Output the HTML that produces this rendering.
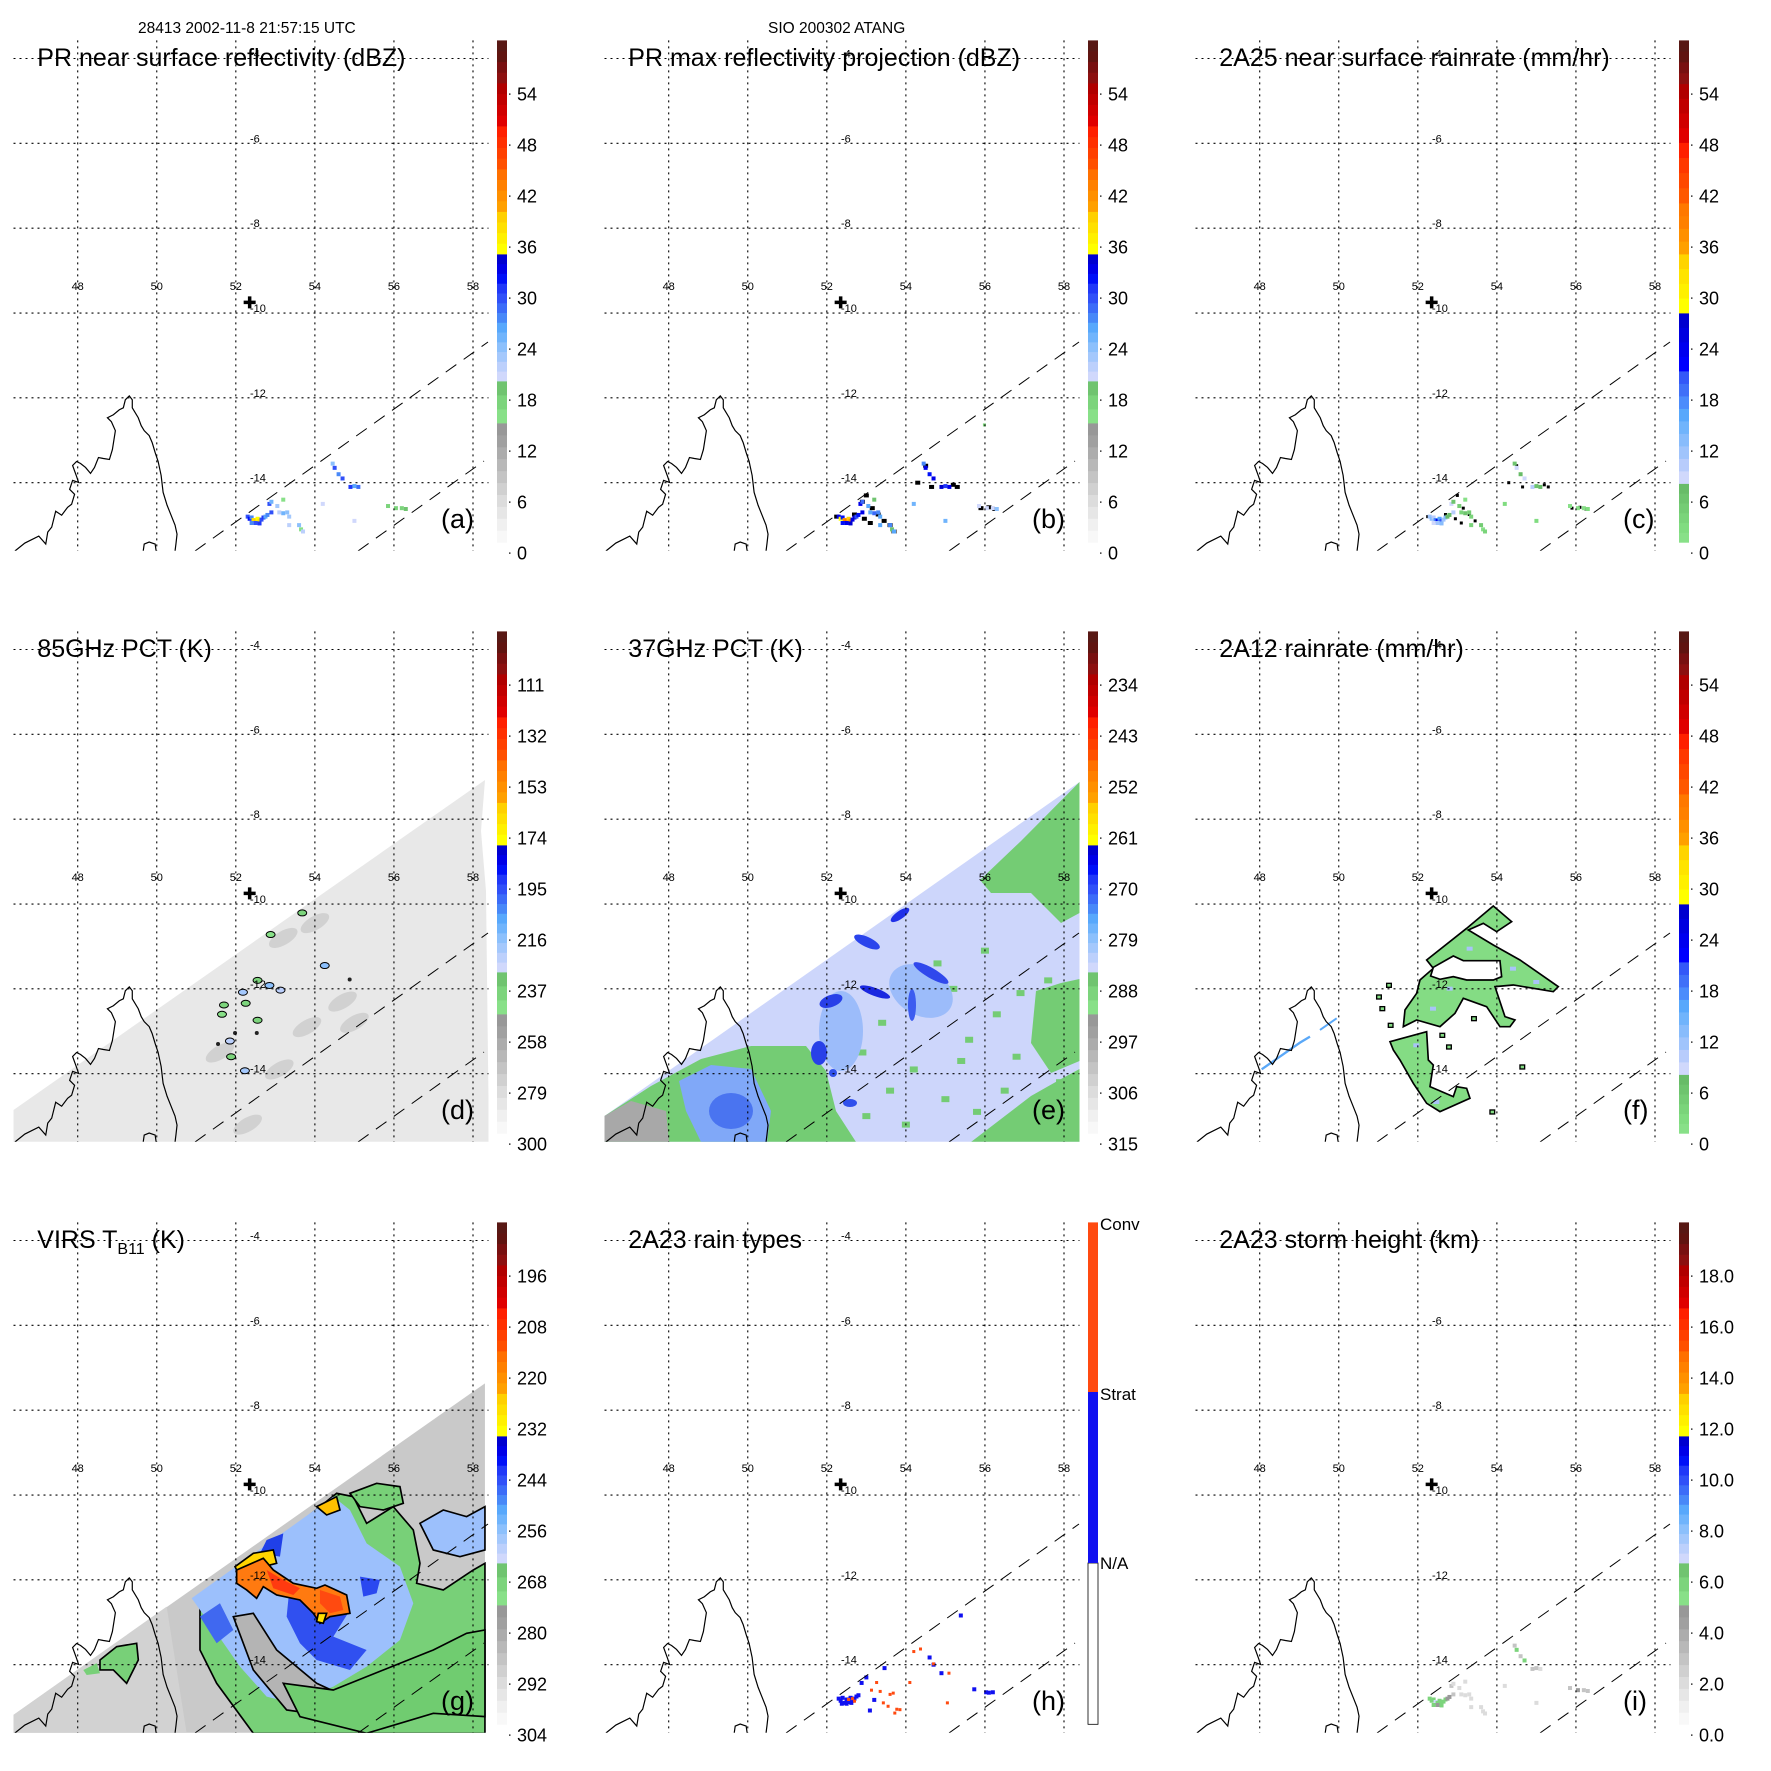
<!DOCTYPE html>
<html><head><meta charset="utf-8"><title>TRMM Cyclone Atang</title>
<style>
html,body{margin:0;padding:0;background:#fff;}
svg{display:block;font-family:"Liberation Sans",Arial,sans-serif;}
</style></head>
<body>
<svg id="fig" xmlns="http://www.w3.org/2000/svg" width="1771" height="1771" viewBox="0 0 1771 1771">
<rect x="0" y="0" width="1771" height="1771" fill="#fff"/>
<text x="138" y="33" font-size="15.5">28413 2002-11-8 21:57:15 UTC</text>
<text x="768" y="33" font-size="15.5">SIO 200302 ATANG</text>
</svg>
<script>
// ---------- data ----------
const lonTicks = [48, 50, 52, 54, 56, 58];
const latTicks = [-4, -6, -8, -10, -12, -14];
const stormCenter = [52.35, -9.75];
const cbarLabelsA = ["0","6","12","18","24","30","36","42","48","54"];
const cbarLabelsD = ["300","279","258","237","216","195","174","153","132","111"];
const cbarLabelsE = ["315","306","297","288","279","270","261","252","243","234"];
const cbarLabelsG = ["304","292","280","268","256","244","232","220","208","196"];
const cbarLabelsI = ["0.0","2.0","4.0","6.0","8.0","10.0","12.0","14.0","16.0","18.0"];
const rainTypeLabels = ["N/A","Strat","Conv"];

// panel a: PR near-surface reflectivity (lon, lat, dBZ)
const aLon = [52.3,52.35,52.4,52.45,52.5,52.55,52.6,52.65,52.7,52.75,52.5,52.4,52.6,52.8,52.9,52.85,52.9,53.05,53.1,53.2,53.3,53.35,53.35,53.6,53.65,53.7,53.2,54.45,54.5,54.6,54.7,54.9,55.0,55.1,54.2,55.0,55.85,56.05,56.2,56.3];
const aLat = [-14.8,-14.85,-14.82,-14.88,-14.9,-14.85,-14.9,-14.87,-14.82,-14.8,-14.95,-14.95,-14.96,-14.76,-14.7,-14.5,-14.45,-14.55,-14.7,-14.72,-14.7,-14.8,-15.0,-15.0,-15.1,-15.15,-14.4,-13.55,-13.65,-13.8,-13.9,-14.1,-14.08,-14.1,-14.5,-14.9,-14.55,-14.6,-14.6,-14.62];
const aVal = [30,32,28,38,40,36,38,30,31,26,30,28,31,28,30,30,25,23,22,25,24,23,22,24,16,22,16,24,30,28,30,31,27,29,21,21,17,17,17,20];
const bBlackLon = [52.25,52.7,52.9,53.0,53.15,53.3,53.45,53.6,53.7,53.1,54.3,54.5,54.65,55.2,55.3,55.9,56.1,56.25,52.95];
const bBlackLat = [-14.8,-14.75,-14.45,-14.3,-14.6,-14.75,-14.9,-15.0,-15.15,-14.95,-14.0,-13.6,-14.1,-14.05,-14.1,-14.6,-14.58,-14.62,-14.85];
const cVal = [12,14,10,18,24,16,20,12,13,8,12,9,13,8,10,9,6,5,4,6,5,4,4,5,2,4,2,6,9,8,9,10,7,8,3,3,2,2,2,3];
const dLon = [53.68,52.88,54.25,52.55,52.85,53.13,52.18,52.25,51.7,51.65,52.55,51.85,51.88,52.23];
const dLat = [-10.21,-10.72,-11.45,-11.8,-11.92,-12.03,-12.08,-12.34,-12.38,-12.6,-12.74,-13.23,-13.6,-13.93];
const dVal = [240,245,215,240,215,225,220,240,240,245,240,225,240,220];
const dDarkLon = [54.88,51.98,51.55,52.53];
const dDarkLat = [-11.78,-13.04,-13.3,-13.04];
const dSmudgeLon = [53.2,54.0,54.7,55.0,53.8,52.3,51.6,53.1];
const dSmudgeLat = [-10.8,-10.45,-12.3,-12.8,-12.9,-15.2,-13.5,-13.9];
const hLon = [52.3,52.35,52.4,52.45,52.5,52.55,52.6,52.65,52.7,52.75,52.8,52.38,52.5,52.62,52.88,53.0,53.46,53.2,53.09,54.6,54.7,54.9,55.39,55.73,56.03,56.2,56.1,52.55,52.65,52.7,53.26,53.13,53.35,53.6,53.68,53.43,53.55,53.77,53.72,53.85,54.1,54.2,54.37,54.7,55.09,55.05];
const hLat = [-14.8,-14.85,-14.78,-14.9,-14.82,-14.88,-14.78,-14.85,-14.8,-14.75,-14.72,-14.92,-14.92,-14.9,-14.43,-14.3,-14.08,-14.83,-15.08,-13.83,-14.0,-14.2,-12.84,-14.58,-14.65,-14.65,-14.66,-14.82,-14.8,-14.86,-14.42,-14.6,-14.63,-14.7,-14.67,-14.9,-14.98,-15.05,-15.14,-15.06,-14.42,-13.69,-13.63,-13.98,-14.2,-14.9];
const hType = [1,1,1,1,1,1,1,1,1,1,1,1,1,1,1,1,1,1,1,1,1,1,1,1,1,1,1,2,2,2,2,2,2,2,2,2,2,2,2,2,2,2,2,2,2,2];
const iVal = [6,6,6,7,6,6,6,6,6,5,5,6,6,5,3,3,2,2,2,2,2,2,2,2,2,2,2,3,6,3,6,3,3,2,2,2,3,5,3,3];
// panel e: scattered warm (green) pixels, lon/lat
const eGreenLon = [54.6,55.2,55.6,56.3,56.8,57.4,57.9,55.0,54.2,53.6,53.0,55.8,56.5,57.2,54.8,53.4,56.0,57.6,52.9,55.4,54.0,56.9];
const eGreenLat = [-12.4,-12.0,-13.2,-12.6,-13.6,-13.0,-14.2,-14.6,-13.9,-14.4,-15.0,-14.9,-14.4,-15.1,-11.4,-12.8,-11.1,-11.8,-13.5,-13.7,-15.2,-12.1];

// ---------- helpers ----------
const NS = "http://www.w3.org/2000/svg";
const svg = document.getElementById('fig');
const PITCH = 591;
function X(lon){ return 77.7 + (lon - 48) * 39.53; }
function Y(lat){ return 58.5 + (-4 - lat) * 42.42; }
function mk(tag, attrs, parent){
  const e = document.createElementNS(NS, tag);
  for (const k in attrs) e.setAttribute(k, attrs[k]);
  (parent || svg).appendChild(e);
  return e;
}
function pts(a){ return a.map(p => p[0] + ',' + p[1]).join(' '); }

const CB_TOP = 40.4, CB_BOT = 542.3, CB_X = 497, CB_W = 10;
const stdBands = [
  [542.3, 423, ['#f8f8f8','#f0f0f0','#e6e6e6','#dcdcdc','#d0d0d0','#c4c4c4','#b8b8b8','#acacac','#a0a0a0','#989898']],
  [423, 381, ['#88e088','#7cd47c','#70c470']],
  [381, 254, ['#d0d8fc','#bcd0fc','#a4c8fc','#8cc0fc','#70b4fc','#58a8fc','#4888f8','#3c6cf8','#3050f8','#2038f8','#0010f8','#0000e8','#0000d0']],
  [254, 211.5, ['#ffff00','#fff000','#ffe000','#ffd000']],
  [211.5, 169, ['#ffa000','#ff9000','#ff8000','#ff7000']],
  [169, 83, ['#ff5000','#ff4000','#ff3000','#ff2000','#e00000','#d00000','#c00000','#b00000']],
  [83, 40.4, ['#8c1010','#781010','#601410','#581814']]
];
const rainBands = [
  [542.3, 483.5, ['#88e088','#80dc80','#7ad47a','#74cc74','#6ec46e','#68bc68']],
  [483.5, 421, ['#d0d8fc','#b8ccfc','#a0c4fc','#88bcfc','#70b4fc']],
  [421, 371, ['#58a8fc','#4c8cfc','#4070f8','#3458f8']],
  [371, 313, ['#0000ff','#0000f0','#0000e0','#0000d0']],
  [313, 254, ['#ffff00','#fff000','#ffe400','#ffd400']],
  [254, 203, ['#ffa000','#ff9000','#ff8000','#ff7800']],
  [203, 142.5, ['#ff5800','#ff4800','#ff3800','#ff2000']],
  [142.5, 83.7, ['#e00000','#d00000','#c00000','#b00000']],
  [83.7, 40.4, ['#8c1010','#781010','#601410','#581814']]
];
function segs(bands){
  const out = [];
  bands.forEach(b => {
    const n = b[2].length, h = (b[0] - b[1]) / n;
    b[2].forEach((c, i) => out.push([b[0] - (i + 1) * h, b[0] - i * h, c]));
  });
  return out;
}
function colorAtY(segList, y){
  for (const s of segList) if (y >= s[0] && y <= s[1]) return s[2];
  return y < CB_TOP ? segList[segList.length - 1][2] : segList[0][2];
}
function valueY(labels, v){
  const v0 = parseFloat(labels[0]), v1 = parseFloat(labels[1]);
  return 553 - (v - v0) / (v1 - v0) * 51;
}

const coast = [[15,554],[25,546],[39,539],[46,547],[48,535],[52,530],[56,514],[62,518],[68,510],[72,507],[75,497],[70,492],[73,483],[79,485],[77,479],[73,468],[77,464],[81,466],[86,470],[91,476],[95,470],[99,460],[104,461],[110,462],[113,452],[116,433],[112,424],[108,420],[114,417],[120,412],[124,410],[126,402],[130,398],[133,402],[133,410],[139,420],[142,428],[145,433],[150,438],[153,445],[156,455],[159,464],[162,478],[164,495],[168,508],[172,518],[176,528],[178,537],[177,546],[176,554]];
const islet = [[144,554],[145,547],[150,545],[156,547],[157,554]];

function panel(col, row, cfg){
  const g = mk('g', {transform: 'translate(' + (col * PITCH) + ',' + (row * PITCH) + ')'});
  
  
  const clipId = 'clip' + cfg.letter;
  const cp = mk('clipPath', {id: clipId}, g);
  mk('rect', {x: 13.5, y: 40.4, width: 475, height: 510.4}, cp);
  const field = mk('g', {'clip-path': 'url(#' + clipId + ')'}, g);
  
  
  if (cfg.draw) cfg.draw(field);

  const cg = mk('g', {transform: 'scale(0.9946)'}, field);
  const c1 = mk('polyline', {points: pts(coast), fill: 'none', stroke: '#000', 'stroke-width': 1.2}, cg);
  
  
  mk('polyline', {points: pts(islet), fill: 'none', stroke: '#000', 'stroke-width': 1.2}, cg);

  const s1 = mk('line', {x1: 195, y1: 551, x2: 488, y2: 342, stroke: '#000', 'stroke-width': 1, 'stroke-dasharray': '13,9'}, field);
  
  
  const s2 = mk('line', {x1: 358, y1: 551, x2: 484, y2: 461, stroke: '#000', 'stroke-width': 1, 'stroke-dasharray': '13,9'}, field);
  
  

  lonTicks.forEach(lon => {
    const l = mk('line', {x1: X(lon), y1: 40.4, x2: X(lon), y2: 550.8, stroke: '#000', 'stroke-width': 1.1, 'stroke-dasharray': '2,4'}, g);
    
    
    const t = mk('text', {x: X(lon), y: 290, 'font-size': 11, 'text-anchor': 'middle'}, g);
    t.textContent = String(lon);
    
    
  });
  latTicks.forEach(lat => {
    const l = mk('line', {x1: 13.5, y1: Y(lat), x2: 488.5, y2: Y(lat), stroke: '#000', 'stroke-width': 1.1, 'stroke-dasharray': '2,4'}, g);
    
    
    const t = mk('text', {x: 250, y: Y(lat) - 1, 'font-size': 11}, g);
    t.textContent = String(lat);
    
    
  });
  const cx = X(stormCenter[0]), cy = Y(stormCenter[1]);
  const pl = mk('path', {d: 'M' + (cx - 6) + ',' + cy + 'h12M' + cx + ',' + (cy - 6) + 'v12', stroke: '#000', 'stroke-width': 3.5}, g);
  
  

  const tt = mk('text', {x: 37.3, y: 66, 'font-size': 25}, g);
  
  
  if (cfg.titleSub){
    tt.appendChild(document.createTextNode(cfg.title));
    const ts = document.createElementNS(NS, 'tspan');
    ts.setAttribute('font-size', 16); ts.setAttribute('dy', 6);
    ts.textContent = cfg.titleSub; tt.appendChild(ts);
    const ts2 = document.createElementNS(NS, 'tspan');
    ts2.setAttribute('dy', -6);
    ts2.textContent = cfg.titleEnd; tt.appendChild(ts2);
  } else tt.textContent = cfg.title;
  const lt = mk('text', {x: 441, y: 528, 'font-size': 27}, g);
  lt.textContent = '(' + cfg.letter + ')';
  
  

  const cb = mk('g', {}, g);
  
  
  if (cfg.rainType){
    mk('rect', {x: CB_X, y: 381, width: CB_W, height: CB_BOT - 381, fill: '#fff', stroke: '#000', 'stroke-width': 0.8}, cb);
    mk('rect', {x: CB_X, y: 210, width: CB_W, height: 171, fill: '#1010f0'}, cb);
    mk('rect', {x: CB_X, y: CB_TOP, width: CB_W, height: 210 - CB_TOP, fill: '#ff4a10'}, cb);
    const ys = [381, 212, 42];
    rainTypeLabels.forEach((s, i) => {
      const t = mk('text', {x: 509, y: ys[i] + 6, 'font-size': 17}, cb);
      t.textContent = s;
      
      
    });
  } else {
    cfg.segs.forEach(s => mk('rect', {x: CB_X, y: s[0], width: CB_W, height: s[1] - s[0] + 0.4, fill: s[2]}, cb));
    cfg.labels.forEach((s, i) => {
      const y = 553 - i * 51;
      const t = mk('text', {x: 517, y: y + 6.5, 'font-size': 18}, cb);
      t.textContent = s;
      
      
      mk('rect', {x: 509, y: y - 0.5, width: 1.5, height: 1.2, fill: '#000'}, cb);
    });
  }
}

function dots(parent, lons, lats, vals, cfg, size){
  lons.forEach((lon, i) => {
    const col = colorAtY(cfg.segs, valueY(cfg.labels, vals[i]));
    const r = mk('rect', {x: X(lon) - size / 2, y: Y(lats[i]) - size / 2, width: size, height: size, fill: col}, parent);
    
    
  });
}

const STD = segs(stdBands), RAIN = segs(rainBands);

const cfgA = {letter: 'a', title: 'PR near surface reflectivity (dBZ)', segs: STD, labels: cbarLabelsA};
cfgA.draw = f => dots(f, aLon, aLat, aVal, cfgA, 4);
panel(0, 0, cfgA);

const cfgB = {letter: 'b', title: 'PR max reflectivity projection (dBZ)', segs: STD, labels: cbarLabelsA};
cfgB.draw = f => {
  bBlackLon.forEach((lon, i) => {
    const r = mk('rect', {x: X(lon) - 2.5, y: Y(bBlackLat[i]) - 2, width: 5, height: 4, fill: '#000'}, f);
    
    
  });
  dots(f, aLon, aLat, aVal.map(v => v + 4), cfgB, 4);
  const gr = mk('rect', {x: X(56) - 2, y: Y(-12.65) - 2, width: 3, height: 3, fill: '#78d078'}, f);
  
  
};
panel(1, 0, cfgB);

const cfgC = {letter: 'c', title: '2A25 near surface rainrate (mm/hr)', segs: RAIN, labels: cbarLabelsA};
cfgC.draw = f => {
  bBlackLon.forEach((lon, i) => {
    const r = mk('rect', {x: X(lon) - 1.5, y: Y(bBlackLat[i]) - 1.5, width: 3, height: 3, fill: '#000'}, f);
    
    
  });
  dots(f, aLon, aLat, cVal, cfgC, 4);
};
panel(2, 0, cfgC);

const cfgD = {letter: 'd', title: '85GHz PCT (K)', segs: STD, labels: cbarLabelsD};
cfgD.draw = f => {
  mk('polygon', {points: '13.5,519 485,189 481,240 486,300 489,551 13.5,551', fill: '#e8e8e8'}, f);
  dSmudgeLon.forEach((lon, i) => {
    const e = mk('ellipse', {cx: X(lon), cy: Y(dSmudgeLat[i]), rx: 16, ry: 7, fill: '#c8c8c8', opacity: 0.7, transform: 'rotate(-30 ' + X(lon) + ' ' + Y(dSmudgeLat[i]) + ')'}, f);
    
    
  });
  dLon.forEach((lon, i) => {
    const col = colorAtY(STD, valueY(cbarLabelsD, dVal[i]));
    const e = mk('ellipse', {cx: X(lon), cy: Y(dLat[i]), rx: 4.5, ry: 3, fill: col, stroke: '#000', 'stroke-width': 1}, f);
    
    
  });
  dDarkLon.forEach((lon, i) => {
    const e = mk('circle', {cx: X(lon), cy: Y(dDarkLat[i]), r: 2, fill: '#222'}, f);
    
    
  });
};
panel(0, 1, cfgD);

const cfgE = {letter: 'e', title: '37GHz PCT (K)', segs: STD, labels: cbarLabelsE};
cfgE.draw = f => {
  mk('polygon', {points: '13.5,525 488.5,191 483,262 488.5,312 488.5,551 13.5,551', fill: '#cdd6fb'}, f);
  const green = '#74cc74';
  [
    '389,289 430,250 488.5,191 488.5,322 470,332 440,302 400,302',
    '445,400 470,392 488.5,388 488.5,470 460,482 440,452',
    '380,551 410,528 440,505 470,488 488.5,478 488.5,551',
    '13.5,525 60,495 110,468 160,455 215,455 235,480 245,520 265,551 13.5,551'
  ].forEach(p => {
    const q = mk('polygon', {points: p, fill: green}, f);
    
    
  });
  eGreenLon.forEach((lon, i) => {
    const r = mk('rect', {x: X(lon) - 4, y: Y(eGreenLat[i]) - 3, width: 8, height: 6, fill: green}, f);
    
    
  });
  mk('polygon', {points: '88,490 120,474 160,478 180,520 176,551 110,551 95,520', fill: '#80a8f8'}, f);
  mk('polygon', {points: '13.5,525 40,510 75,520 78,551 13.5,551', fill: '#a8a8a8'}, f);
  [[250,440,22,40,0,'#9cbcfa'],[330,400,34,24,30,'#9cbcfa'],[140,520,22,18,0,'#4a74f0'],
   [309,324,11,4,-35,'#2030e8'],[276,351,14,5,25,'#2a44ec'],[284,401,16,4,20,'#1a28e0'],
   [340,382,20,5,30,'#3048ec'],[321,414,4,16,0,'#3c5cf0'],[240,410,12,6,-20,'#2840e8'],
   [228,462,8,12,0,'#2840e8'],[242,482,4,4,0,'#3050ec'],[259,512,7,4,0,'#3050ec']].forEach(s => {
    mk('ellipse', {cx: s[0], cy: s[1], rx: s[2], ry: s[3], fill: s[5], transform: 'rotate(' + s[4] + ' ' + s[0] + ' ' + s[1] + ')'}, f);
  });
};
panel(1, 1, cfgE);

const cfgF = {letter: 'f', title: '2A12 rainrate (mm/hr)', segs: RAIN, labels: cbarLabelsA};
cfgF.draw = f => {
  const gg = mk('g', {transform: 'translate(18,289) scale(0.3333)'}, f);
  const outer = '880,78 935,125 890,155 850,130 805,150 880,195 960,240 1075,320 1060,335 940,315 885,320 915,410 945,420 930,440 900,440 860,380 790,355 765,400 720,440 650,420 610,440 615,390 650,340 660,300 700,265 680,240 800,145';
  const o = mk('polygon', {points: outer, fill: '#84dc84', stroke: '#000', 'stroke-width': 5}, gg);
  
  
  mk('polygon', {points: '700,262 760,228 790,242 900,242 905,290 880,300 800,300 760,290 720,298 692,288', fill: '#fff', stroke: '#000', 'stroke-width': 5}, gg);
  const lo = mk('polygon', {points: '570,485 680,455 685,540 700,555 690,620 760,650 770,620 800,625 810,655 720,695 680,670 640,610 600,540 580,510', fill: '#84dc84', stroke: '#000', 'stroke-width': 5}, gg);
  
  
  [[690,380],[740,320],[800,200],[930,260],[1000,300],[640,490],[700,660]].forEach(p => mk('rect', {x: p[0], y: p[1], width: 18, height: 12, fill: '#a8c4f8'}, gg));
  [[720,460],[740,495],[815,410],[960,555],[870,690],[560,310],[530,345],[540,380],[565,430]].forEach(p => mk('rect', {x: p[0], y: p[1], width: 14, height: 12, fill: '#84dc84', stroke: '#000', 'stroke-width': 4}, gg));
  mk('polyline', {points: '185,568 300,488 330,470', fill: 'none', stroke: '#5aa8f8', 'stroke-width': 7}, gg);
  mk('polyline', {points: '360,450 410,415', fill: 'none', stroke: '#5aa8f8', 'stroke-width': 6}, gg);
};
panel(2, 1, cfgF);

const cfgG = {letter: 'g', title: 'VIRS T', titleSub: 'B11', titleEnd: ' (K)', segs: STD, labels: cbarLabelsG};
cfgG.draw = f => {
  const gg = mk('g', {transform: 'translate(0,168) scale(0.3333)'}, f);
  mk('polygon', {points: '40,1095 1455,100 1455,1150 40,1150', fill: '#c9c9c9'}, gg);
  mk('polygon', {points: '40,1095 500,770 560,1150 40,1150', fill: '#d2d2d2'}, gg);
  const sw = {stroke: '#000', 'stroke-width': 5};
  const poly = (p, fill, st) => {
    const q = mk('polygon', Object.assign({points: p, fill: fill}, st || {}), gg);
    
    
  };
  poly('600,760 1010,430 1060,440 1100,520 1180,470 1240,540 1260,640 1250,700 1330,720 1420,660 1455,640 1455,1150 760,1150 650,1000 600,900', '#78d078', sw);
  poly('1050,430 1130,400 1200,410 1210,460 1150,480 1080,470', '#78d078', sw);
  poly('1260,520 1330,480 1400,500 1455,470 1455,600 1380,620 1300,600', '#9cc0fc', sw);
  poly('575,745 1000,440 1050,480 1100,580 1200,650 1240,760 1200,870 1100,950 1000,1010 880,1060 800,1040 720,950 650,850', '#9cc0fc');
  poly('700,800 760,790 830,900 950,1000 1080,1060 1000,1100 860,1080 760,960', '#b4b4b4', sw);
  poly('850,1000 1000,1020 1150,960 1300,900 1400,850 1455,840 1455,1100 1300,1090 1100,1150 900,1100', '#70cc70', sw);
  poly('870,700 960,720 1050,780 1000,860 1100,900 1050,960 950,930 900,880 860,800', '#3050f0');
  poly('800,570 850,550 840,620 780,610', '#2040e8');
  poly('1080,680 1140,690 1130,730 1090,740', '#2a48f0');
  poly('600,800 660,760 700,840 650,880', '#4068f0');
  poly('705,650 760,610 820,600 830,640 790,650 720,680', '#ffd400', sw);
  poly('710,660 790,625 820,660 880,700 950,715 975,705 1040,735 1050,790 990,800 960,820 940,790 900,750 830,735 790,710 770,745 740,720 710,700', '#ff7a10', sw);
  poly('800,660 850,690 900,715 880,735 820,715', '#ff3a10');
  poly('960,720 1020,740 1030,780 990,790 960,760', '#ff4a10');
  poly('950,470 1010,440 1020,480 980,495', '#ffc000', sw);
  poly('955,790 980,790 970,820 950,815', '#ffe000', sw);
  poly('300,930 350,890 410,880 415,930 380,1000 340,960 300,960', '#78d078', sw);
  poly('250,960 290,940 300,970 260,975', '#78d078');
};
panel(0, 2, cfgG);

const cfgH = {letter: 'h', title: '2A23 rain types', rainType: true};
cfgH.draw = f => {
  hLon.forEach((lon, i) => {
    const col = hType[i] === 2 ? '#ff4a10' : '#1010f0';
    const s = hType[i] === 2 ? 3 : 4;
    const r = mk('rect', {x: X(lon) - s / 2, y: Y(hLat[i]) - s / 2, width: s, height: s, fill: col}, f);
    
    
  });
};
panel(1, 2, cfgH);

const cfgI = {letter: 'i', title: '2A23 storm height (km)', segs: STD, labels: cbarLabelsI};
cfgI.draw = f => dots(f, aLon, aLat, iVal, cfgI, 4);
panel(2, 2, cfgI);
</script>
</body></html>
